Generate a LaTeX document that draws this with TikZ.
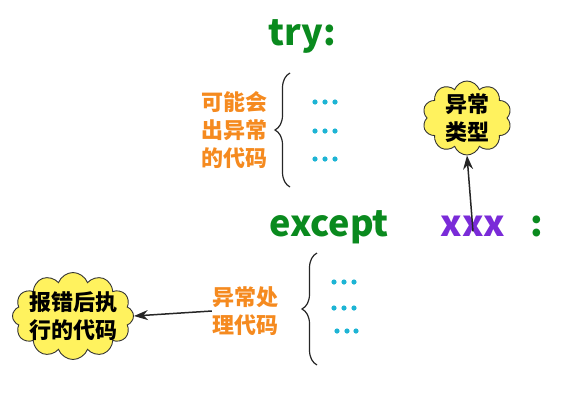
\documentclass[tikz,border=0pt]{standalone}
\usepackage{fontspec}
\newfontfamily\cjk{Noto Sans CJK SC}
\usetikzlibrary{shapes.symbols,decorations.pathreplacing,arrows.meta}
\definecolor{kwgreen}{HTML}{0A8A1E}
\definecolor{txtorange}{HTML}{F58A1F}
\definecolor{xpurple}{HTML}{7A2BD8}
\definecolor{dotcyan}{HTML}{1DB4D4}
\definecolor{cloudyellow}{HTML}{FFF25E}
\tikzset{
  kw/.style={font=\cjk\bfseries\fontsize{36}{40}\selectfont, inner sep=0pt, anchor=base},
  note/.style={font=\cjk\bfseries\fontsize{22}{28}\selectfont, text=txtorange, align=center, inner sep=0pt},
  bubble/.style={cloud, cloud ignores aspect, cloud puff arc=140, draw=black!80, line width=0.9pt, fill=cloudyellow,
     font=\cjk\bfseries\fontsize{22}{28}\selectfont, align=center, inner sep=-10pt},
  bracestyle/.style={decorate, decoration={brace, amplitude=15pt}, line width=1.2pt, black!85},
  arr/.style={-{Stealth[length=14pt,width=10pt]}, line width=1.5pt, black!85},
  dot/.style={fill=dotcyan, draw=none}
}
\begin{document}
\begin{tikzpicture}[x=1pt,y=-1pt]
\useasboundingbox (0,0) rectangle (580,400);
% keywords
\node[kw, text=kwgreen] (try) at (302,45) {try:};
\node[kw, text=kwgreen] (except) at (329,236) {except};
\node[kw, text=xpurple] (xxx) at (473,236) {xxx};
\node[kw, text=kwgreen] (colon) at (537,236) {:};
% upper group
\node[note] (risky) at (234,130) {可能会\\出异常\\的代码};
\draw[bracestyle] (290,187) -- (290,73);
\foreach \yy in {102,131,159} {
  \foreach \xx in {315,325,335} { \fill[dot] (\xx,\yy) circle (2.6); }
}
% exception type cloud
\node[bubble, cloud puffs=10, minimum width=89pt, minimum height=74pt] (etype) at (467,118) {异常\\类型};
\draw[arr] ([yshift=-16pt]xxx.north) -- (etype.south);
% lower group
\node[note] (handle) at (245,311) {异常处\\理代码};
\draw[bracestyle] (317,365) -- (317,253);
\foreach \yy in {282,308} {
  \foreach \xx in {334,344,354} { \fill[dot] (\xx,\yy) circle (2.6); }
}
\foreach \xx in {337,347,356} { \fill[dot] (\xx,331) circle (2.6); }
% error cloud
\node[bubble, cloud puffs=12, minimum width=121pt, minimum height=87pt] (errc) at (73,316) {报错后执\\行的代码};
\draw[arr] (handle.west) -- (errc.east);
\end{tikzpicture}
\end{document}
